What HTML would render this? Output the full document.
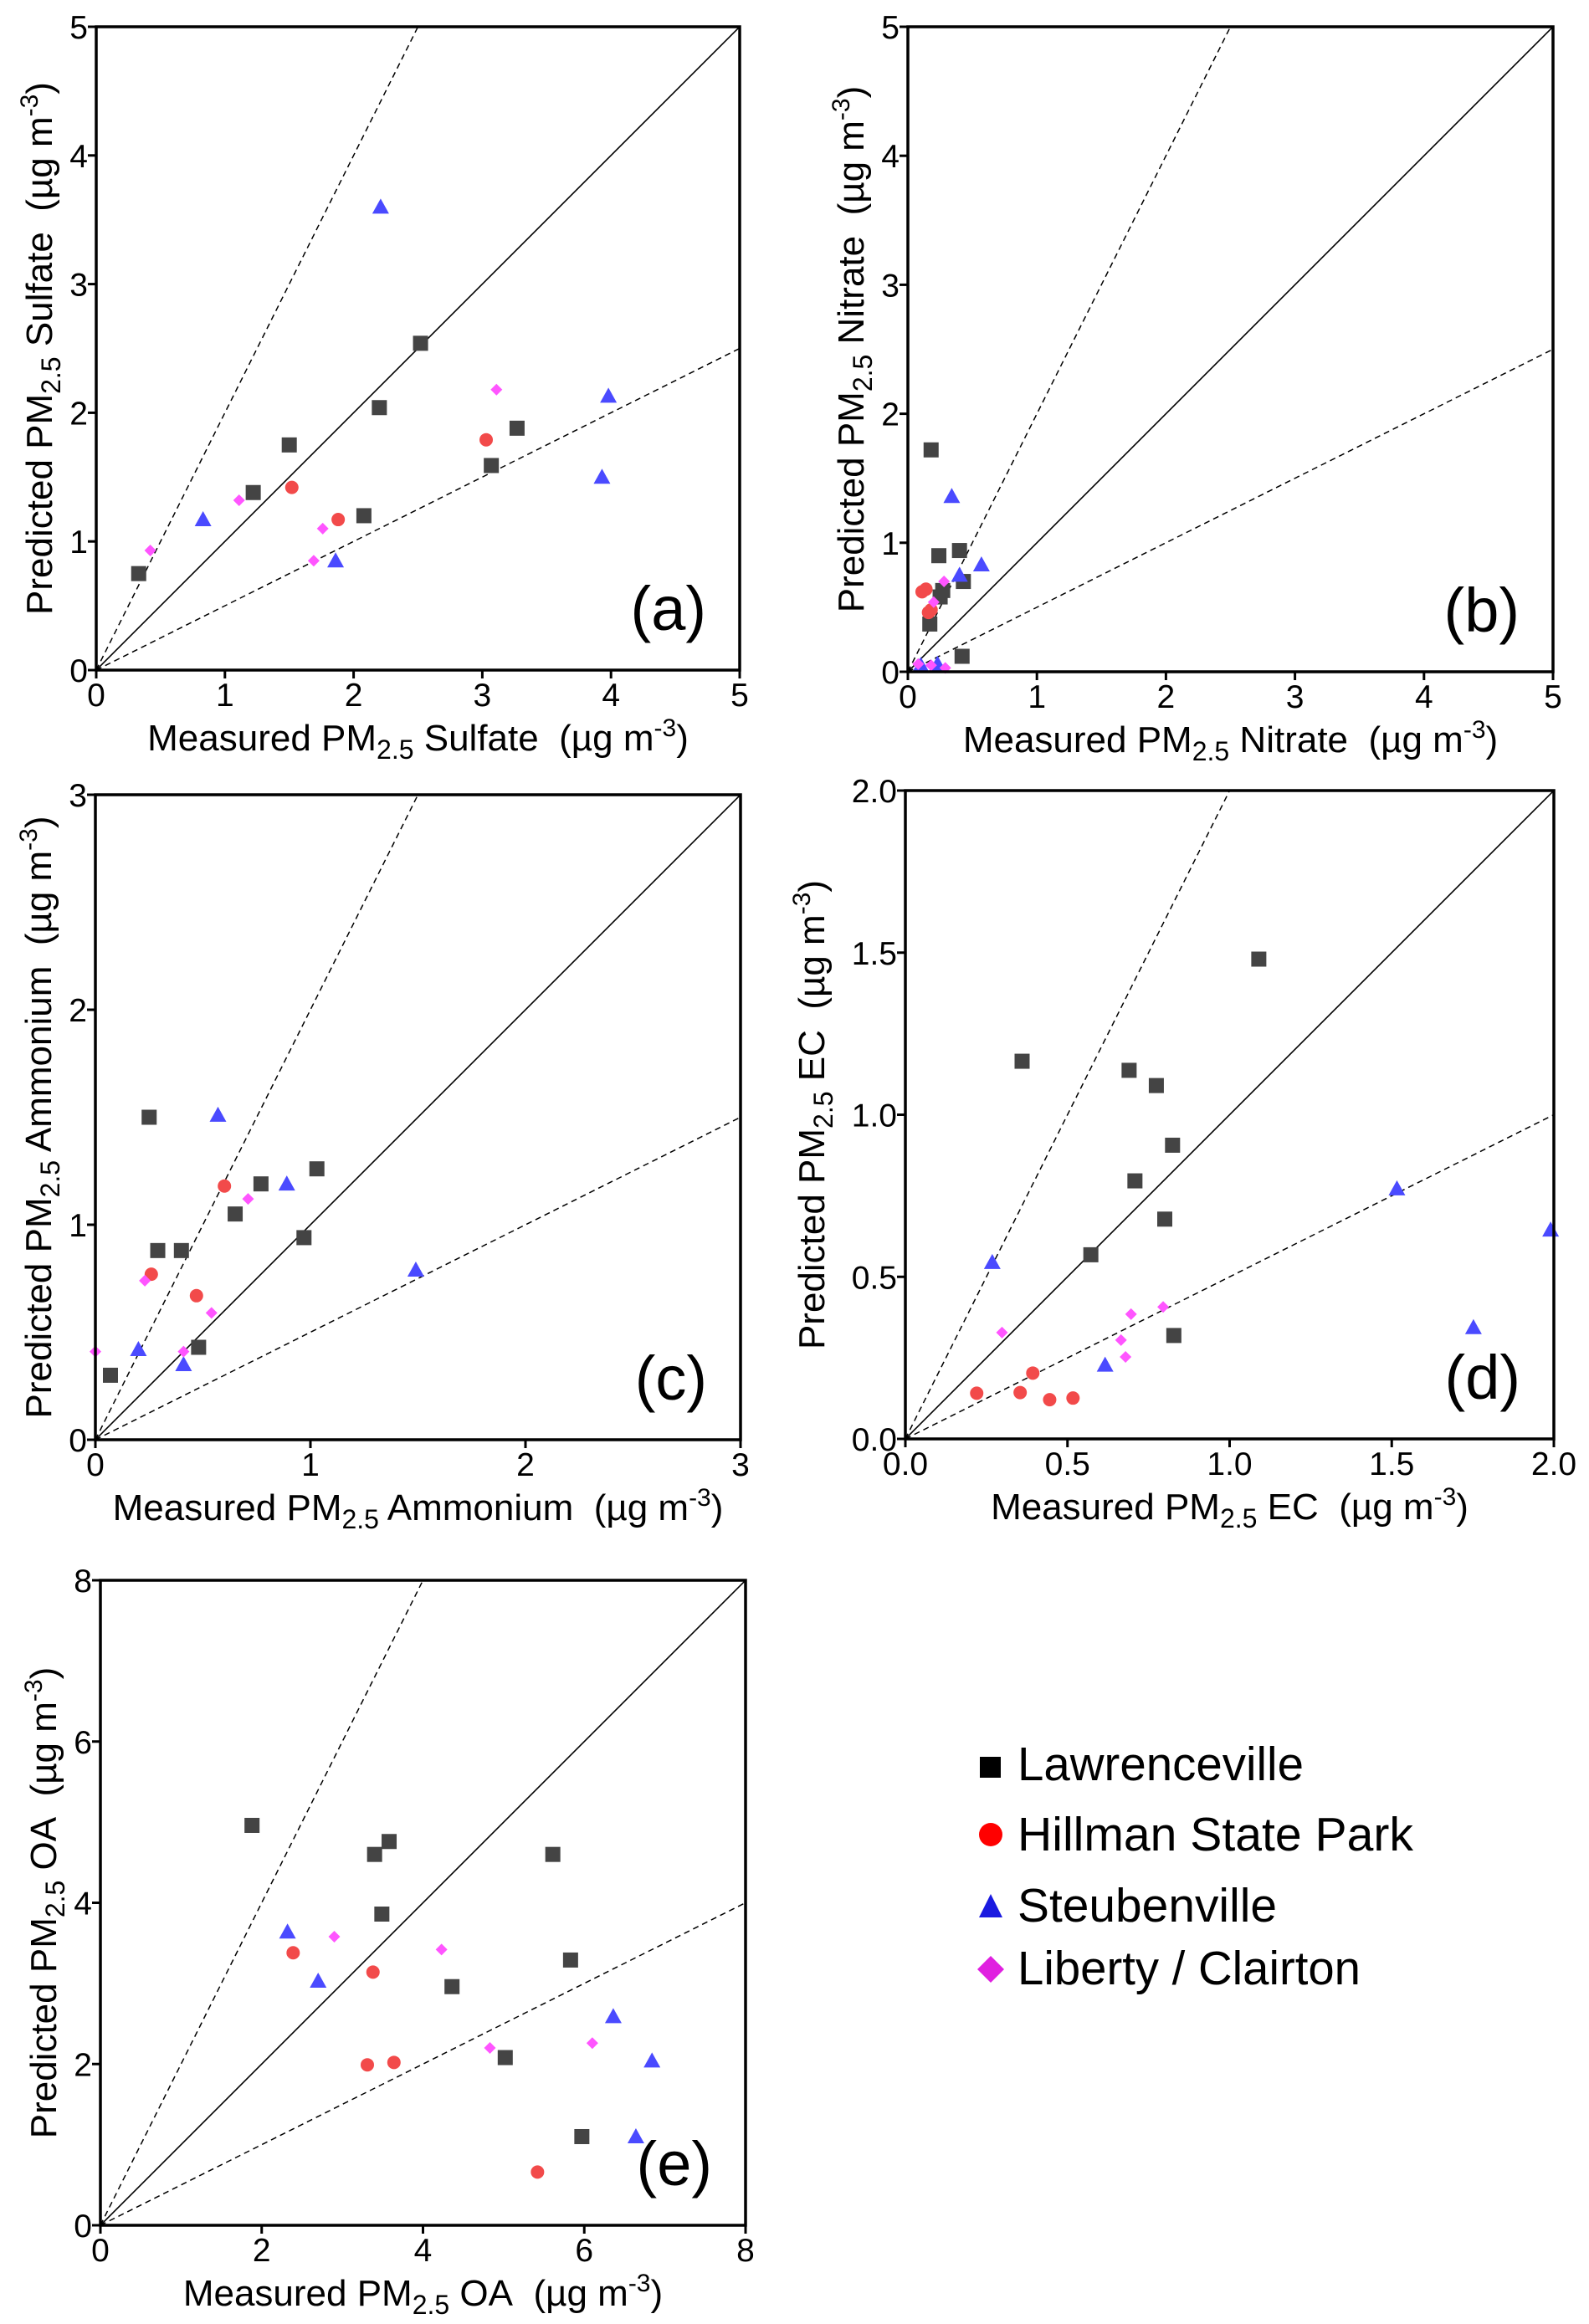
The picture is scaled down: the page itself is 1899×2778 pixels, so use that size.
<!DOCTYPE html>
<html><head><meta charset="utf-8">
<style>
html,body{margin:0;padding:0;background:#fff;}
svg{display:block;font-family:"Liberation Sans",Arial,sans-serif;}
</style></head>
<body>
<svg id="fig" width="1899" height="2778" viewBox="0 0 1899 2778" xmlns="http://www.w3.org/2000/svg">
<rect width="1899" height="2778" fill="#fff"/>
<g id="legend">
  <g>
    <rect x="1171" y="2100" width="25" height="25" fill="#000"/>
    <text x="1216" y="2128" font-size="57" textLength="342" lengthAdjust="spacingAndGlyphs">Lawrenceville</text>
  </g>
  <g>
    <circle cx="1184" cy="2193" r="14" fill="#f00"/>
    <text x="1216" y="2212" font-size="57" textLength="473" lengthAdjust="spacingAndGlyphs">Hillman State Park</text>
  </g>
  <g>
    <polygon points="1184,2264 1198,2292 1170,2292" fill="#1a1ae0"/>
    <text x="1216" y="2297" font-size="57" textLength="310" lengthAdjust="spacingAndGlyphs">Steubenville</text>
  </g>
  <g>
    <polygon points="1184,2338 1200,2354 1184,2370 1168,2354" fill="#e020e0"/>
    <text x="1216" y="2372" font-size="57" textLength="410" lengthAdjust="spacingAndGlyphs">Liberty / Clairton</text>
  </g>
</g>
</svg>
<script>
// ---- data ----
const sites = ["Lawrenceville","Hillman State Park","Steubenville","Liberty / Clairton"];
const tickA = ["0","1","2","3","4","5"];
const tickC = ["0","1","2","3"];
const tickD = ["0.0","0.5","1.0","1.5","2.0"];
const tickE = ["0","2","4","6","8"];
// Panel (a) Sulfate
const aLawX=[0.33,1.22,1.5,2.08,2.2,2.52,3.07,3.27], aLawY=[0.75,1.38,1.75,1.2,2.04,2.54,1.59,1.88];
const aHilX=[1.52,1.88,3.03], aHilY=[1.42,1.17,1.79];
const aSteX=[0.83,2.21,1.86,3.93,3.98], aSteY=[1.17,3.6,0.85,1.5,2.13];
const aLibX=[0.42,1.11,1.76,1.69,3.11], aLibY=[0.93,1.32,1.1,0.85,2.18];
// Panel (b) Nitrate
const bLawX=[0.18,0.24,0.4,0.43,0.27,0.25,0.17,0.42], bLawY=[1.72,0.9,0.94,0.7,0.63,0.58,0.37,0.12];
const bHilX=[0.11,0.14,0.18,0.16], bHilY=[0.62,0.64,0.48,0.46];
const bSteX=[0.34,0.57,0.4,0.23,0.1], bSteY=[1.36,0.83,0.75,0.06,0.05];
const bLibX=[0.28,0.2,0.08,0.18,0.29], bLibY=[0.7,0.54,0.06,0.05,0.03];
// Panel (c) Ammonium
const cLawX=[0.25,1.03,0.77,0.65,0.29,0.4,0.97,0.48,0.07], cLawY=[1.5,1.26,1.19,1.05,0.88,0.88,0.94,0.43,0.3];
const cHilX=[0.6,0.26,0.47], cHilY=[1.18,0.77,0.67];
const cSteX=[0.57,0.89,1.49,0.2,0.41], cSteY=[1.51,1.19,0.79,0.42,0.35];
const cLibX=[0.71,0.23,0.54,0.41,0.0], cLibY=[1.12,0.74,0.59,0.41,0.41];
// Panel (d) EC
const dLawX=[1.09,0.36,0.69,0.774,0.824,0.708,0.8,0.572,0.828], dLawY=[1.48,1.165,1.137,1.09,0.906,0.796,0.678,0.568,0.319];
const dHilX=[0.22,0.354,0.393,0.445,0.517], dHilY=[0.141,0.143,0.203,0.121,0.126];
const dSteX=[0.268,0.616,1.516,1.752,1.99], dSteY=[0.545,0.228,0.772,0.344,0.645];
const dLibX=[0.298,0.696,0.795,0.665,0.679], dLibY=[0.328,0.385,0.407,0.305,0.253];
// Panel (e) OA
const eLawX=[1.88,3.4,3.58,3.49,4.36,5.61,5.83,5.02,5.97], eLawY=[4.96,4.6,4.76,3.86,2.96,4.6,3.29,2.08,1.1];
const eHilX=[2.39,3.38,3.31,3.64,5.42], eHilY=[3.38,3.14,1.99,2.02,0.66];
const eSteX=[2.32,2.7,6.36,6.84,6.64], eSteY=[3.64,3.03,2.59,2.04,1.1];
const eLibX=[2.9,4.23,4.83,6.1], eLibY=[3.58,3.42,2.2,2.26];

const NS="http://www.w3.org/2000/svg";
const svg=document.getElementById('fig');
function mk(tag,attrs,parent){const e=document.createElementNS(NS,tag);for(const k in attrs)e.setAttribute(k,attrs[k]);(parent||svg).appendChild(e);return e;}

const colors=["#444444","#f24a4a","#4a4aff","#ff55ff"];

function titleText(parent,x,y,rot,before,after,name){
  const t=mk('text',{x:x,y:y,'font-size':44,'text-anchor':'middle'},parent);
  if(rot)t.setAttribute('transform','rotate(-90 '+x+' '+y+')');
  
  
  const s1=mk('tspan',{},t);s1.textContent=before+" PM";
  const s2=mk('tspan',{'font-size':32,dy:10},t);s2.textContent="2.5";
  const s3=mk('tspan',{dy:-10},t);s3.textContent=" "+after+"\u00a0\u00a0(\u00b5g m";
  const s4=mk('tspan',{'font-size':30,dy:-17},t);s4.textContent="-3";
  const s5=mk('tspan',{dy:17},t);s5.textContent=")";
}

function panel(id,x0,y0,size,max,ticks,species,label,ytOff,sets){
  const g=mk('g',{});
  
  
  const sx=v=>x0+v/max*size, sy=v=>y0+size-v/max*size;
  const clipId='clip'+id;
  const cp=mk('clipPath',{id:clipId},g);mk('rect',{x:x0,y:y0,width:size,height:size},cp);
  const lines=mk('g',{'clip-path':'url(#'+clipId+')'},g);
  const l1=mk('line',{x1:sx(0),y1:sy(0),x2:sx(max),y2:sy(max),stroke:'#000','stroke-width':1.6},lines);
  
  
  const l2=mk('line',{x1:sx(0),y1:sy(0),x2:sx(max/2),y2:sy(max),stroke:'#000','stroke-width':1.5,'stroke-dasharray':'7,5'},lines);
  
  
  const l3=mk('line',{x1:sx(0),y1:sy(0),x2:sx(max),y2:sy(max/2),stroke:'#000','stroke-width':1.5,'stroke-dasharray':'7,5'},lines);
  
  
  sets.forEach((s,si)=>{
    const xs=s[0],ys=s[1];
    for(let i=0;i<xs.length;i++){
      const cx=sx(xs[i]),cy=sy(ys[i]);let m;
      if(si===0)m=mk('rect',{x:cx-9,y:cy-9,width:18,height:18,fill:colors[0]},g);
      else if(si===1)m=mk('circle',{cx:cx,cy:cy,r:8,fill:colors[1]},g);
      else if(si===2)m=mk('polygon',{points:(cx)+','+(cy-10)+' '+(cx+10)+','+(cy+8)+' '+(cx-10)+','+(cy+8),fill:colors[2]},g);
      else m=mk('polygon',{points:cx+','+(cy-7)+' '+(cx+7)+','+cy+' '+cx+','+(cy+7)+' '+(cx-7)+','+cy,fill:colors[3]},g);
      
      
    }
  });
  const fr=mk('rect',{x:x0,y:y0,width:size,height:size,fill:'none',stroke:'#000','stroke-width':3.5},g);
  
  
  const n=ticks.length-1;
  ticks.forEach((lab,i)=>{
    const v=max*i/n;
    mk('line',{x1:sx(v),y1:y0+size,x2:sx(v),y2:y0+size+10,stroke:'#000','stroke-width':3},g);
    mk('line',{x1:x0-10,y1:sy(v),x2:x0,y2:sy(v),stroke:'#000','stroke-width':3},g);
    const tx=mk('text',{x:sx(v),y:y0+size+43,'font-size':39,'text-anchor':'middle'},g);
    tx.textContent=lab;
    
    
    const ty=mk('text',{x:x0-10,y:sy(v)+14,'font-size':39,'text-anchor':'end'},g);
    ty.textContent=lab;
    
    
  });
  titleText(g,x0+size/2,y0+size+96,false,"Measured",species,'x-axis-title');
  titleText(g,x0-ytOff,y0+size/2,true,"Predicted",species,'y-axis-title');
  const pl=mk('text',{x:x0+size-40,y:y0+size-48,'font-size':74,'text-anchor':'end'},g);
  pl.textContent=label;
  
  
}

panel('a',115,32,769,5,tickA,'Sulfate','(a)',53,[[aLawX,aLawY],[aHilX,aHilY],[aSteX,aSteY],[aLibX,aLibY]]);
panel('b',1085,32,771,5,tickA,'Nitrate','(b)',53,[[bLawX,bLawY],[bHilX,bHilY],[bSteX,bSteY],[bLibX,bLibY]]);
panel('c',114,950,771,3,tickC,'Ammonium','(c)',53,[[cLawX,cLawY],[cHilX,cHilY],[cSteX,cSteY],[cLibX,cLibY]]);
panel('d',1082,945,775,2,tickD,'EC','(d)',97,[[dLawX,dLawY],[dHilX,dHilY],[dSteX,dSteY],[dLibX,dLibY]]);
panel('e',120,1889,771,8,tickE,'OA','(e)',53,[[eLawX,eLawY],[eHilX,eHilY],[eSteX,eSteY],[eLibX,eLibY]]);
</script>
</body></html>
